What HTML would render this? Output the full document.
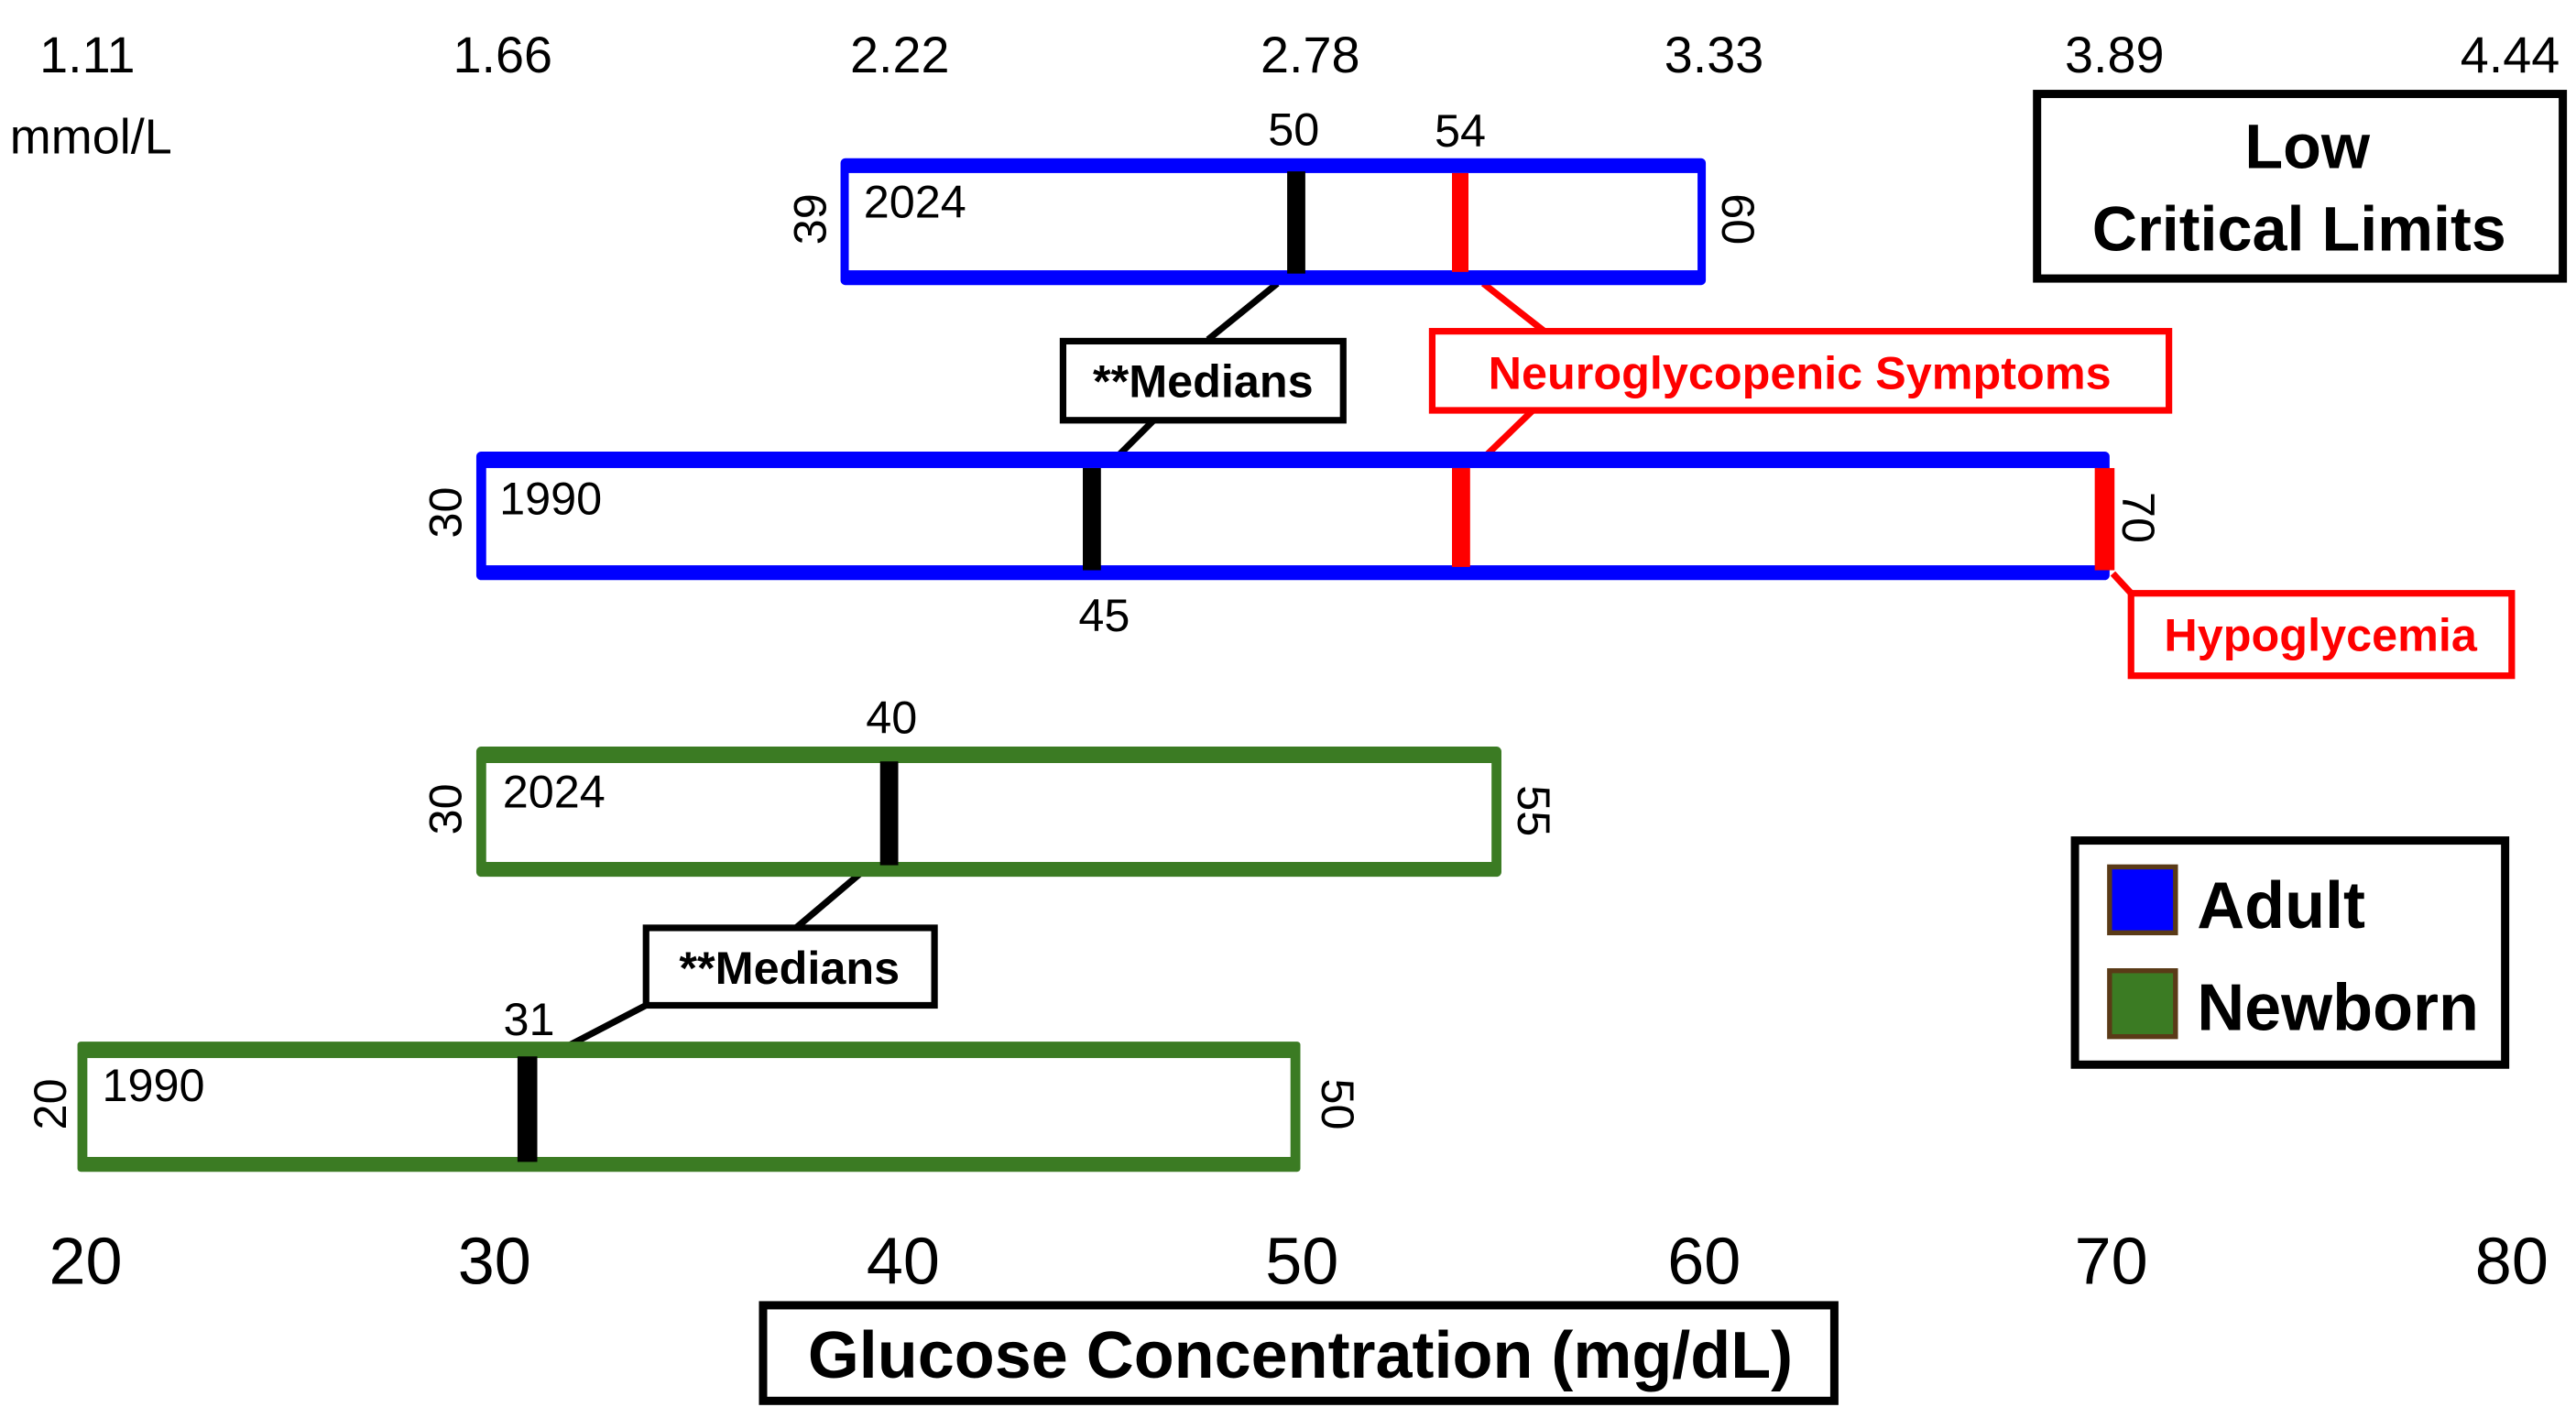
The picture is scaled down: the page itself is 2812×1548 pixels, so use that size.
<!DOCTYPE html>
<html><head><meta charset="utf-8"><style>
html,body{margin:0;padding:0;background:#fff;}
svg{display:block;}
text{font-family:"Liberation Sans",Arial,sans-serif;}
</style></head><body>
<svg width="2812" height="1548" viewBox="0 0 1563 860.4" preserveAspectRatio="none" xmlns="http://www.w3.org/2000/svg">
<rect width="1563" height="861" fill="#fff"/>
<!-- top mmol axis -->
<g font-size="31" text-anchor="middle" fill="#000">
<text x="53" y="44">1.11</text>
<text x="305" y="44">1.66</text>
<text x="546" y="44">2.22</text>
<text x="795" y="44">2.78</text>
<text x="1040" y="44">3.33</text>
<text x="1283" y="44">3.89</text>
<text x="1523" y="44">4.44</text>
</g>
<text x="6" y="93" font-size="30">mmol/L</text>
<!-- Low Critical Limits -->
<rect x="1236" y="57" width="319" height="112" fill="#fff" stroke="#000" stroke-width="5"/>
<g font-size="38" font-weight="bold" text-anchor="middle">
<text x="1400" y="102">Low</text>
<text x="1395" y="152">Critical Limits</text>
</g>

<!-- connectors adult -->
<line x1="775" y1="172" x2="733" y2="206" stroke="#000" stroke-width="4"/>
<line x1="700" y1="255" x2="677" y2="278" stroke="#000" stroke-width="4"/>
<line x1="900" y1="172" x2="937" y2="201" stroke="#f00" stroke-width="4"/>
<line x1="930" y1="249" x2="900" y2="278" stroke="#f00" stroke-width="4"/>
<line x1="1282" y1="348" x2="1294" y2="361" stroke="#f00" stroke-width="4"/>

<!-- Adult 2024 -->
<rect x="510" y="96" width="525" height="77" fill="#00f" rx="3"/>
<rect x="515" y="105" width="515" height="59" fill="#fff"/>
<rect x="781" y="104" width="11" height="62" fill="#000"/>
<rect x="881" y="105" width="10" height="60" fill="#f00"/>
<text x="524" y="132" font-size="28">2024</text>
<text x="785" y="88" font-size="28" text-anchor="middle">50</text>
<text x="886" y="89" font-size="28" text-anchor="middle">54</text>
<text transform="translate(501,133) rotate(-90)" font-size="28" text-anchor="middle">39</text>
<text transform="translate(1045,133) rotate(90)" font-size="28" text-anchor="middle">60</text>

<!-- Medians adult -->
<rect x="645" y="207" width="170" height="48" fill="#fff" stroke="#000" stroke-width="4"/>
<text x="730" y="241" font-size="28" font-weight="bold" text-anchor="middle">**Medians</text>
<!-- Neuroglycopenic -->
<rect x="869" y="201" width="447" height="48" fill="#fff" stroke="#f00" stroke-width="4"/>
<text x="1092" y="236" font-size="28" font-weight="bold" fill="#f00" text-anchor="middle">Neuroglycopenic Symptoms</text>

<!-- Adult 1990 -->
<rect x="289" y="274" width="991" height="78" fill="#00f" rx="3"/>
<rect x="295" y="284" width="978" height="59" fill="#fff"/>
<rect x="657" y="284" width="11" height="62" fill="#000"/>
<rect x="881" y="284" width="11" height="60" fill="#f00"/>
<rect x="1271" y="284" width="12" height="62" fill="#f00"/>
<text x="303" y="312" font-size="28">1990</text>
<text x="670" y="383" font-size="28" text-anchor="middle">45</text>
<text transform="translate(280,311) rotate(-90)" font-size="28" text-anchor="middle">30</text>
<text transform="translate(1288,314) rotate(90)" font-size="28" text-anchor="middle">70</text>
<!-- Hypoglycemia -->
<rect x="1293" y="360" width="231" height="50" fill="#fff" stroke="#f00" stroke-width="4"/>
<text x="1408" y="395" font-size="28" font-weight="bold" fill="#f00" text-anchor="middle">Hypoglycemia</text>

<!-- connectors newborn -->
<line x1="522" y1="530" x2="483" y2="563" stroke="#000" stroke-width="4"/>
<line x1="392" y1="610" x2="344" y2="635" stroke="#000" stroke-width="4"/>

<!-- Newborn 2024 -->
<rect x="289" y="453" width="622" height="79" fill="#3b7b23" rx="3"/>
<rect x="295" y="463" width="610" height="60" fill="#fff"/>
<rect x="534" y="462" width="11" height="63" fill="#000"/>
<text x="305" y="490" font-size="28">2024</text>
<text x="541" y="445" font-size="28" text-anchor="middle">40</text>
<text transform="translate(280,491) rotate(-90)" font-size="28" text-anchor="middle">30</text>
<text transform="translate(921,492) rotate(90)" font-size="28" text-anchor="middle">55</text>
<!-- Medians newborn -->
<rect x="392" y="563" width="175" height="47" fill="#fff" stroke="#000" stroke-width="4"/>
<text x="479" y="597" font-size="28" font-weight="bold" text-anchor="middle">**Medians</text>
<text x="321" y="628" font-size="28" text-anchor="middle">31</text>

<!-- Newborn 1990 -->
<rect x="47" y="632" width="742" height="79" fill="#3b7b23" rx="2"/>
<rect x="53" y="642" width="730" height="60" fill="#fff"/>
<rect x="314" y="641" width="12" height="64" fill="#000"/>
<text x="62" y="668" font-size="28">1990</text>
<text transform="translate(40,670) rotate(-90)" font-size="28" text-anchor="middle">20</text>
<text transform="translate(802,670) rotate(90)" font-size="28" text-anchor="middle">50</text>

<!-- Legend -->
<rect x="1259" y="510" width="261" height="136" fill="#fff" stroke="#000" stroke-width="5"/>
<rect x="1280" y="526" width="40" height="40" fill="#00f" stroke="#5a3a17" stroke-width="3"/>
<rect x="1280" y="589" width="40" height="40" fill="#3b7b23" stroke="#5a3a17" stroke-width="3"/>
<g font-size="40" font-weight="bold">
<text x="1333" y="563">Adult</text>
<text x="1333" y="625">Newborn</text>
</g>

<!-- bottom axis -->
<g font-size="40" text-anchor="middle">
<text x="52" y="779">20</text>
<text x="300" y="779">30</text>
<text x="548" y="779">40</text>
<text x="790" y="779">50</text>
<text x="1034" y="779">60</text>
<text x="1281" y="779">70</text>
<text x="1524" y="779">80</text>
</g>
<rect x="463" y="792" width="650" height="58" fill="#fff" stroke="#000" stroke-width="5"/>
<text x="789" y="836" font-size="40" font-weight="bold" text-anchor="middle">Glucose Concentration (mg/dL)</text>
</svg>
</body></html>
